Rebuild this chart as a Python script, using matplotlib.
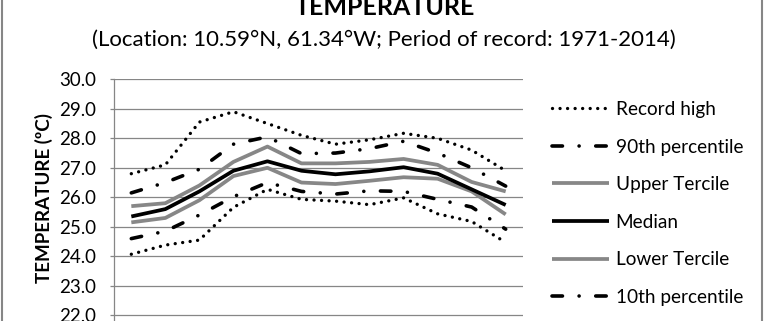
import matplotlib
matplotlib.use("Agg")
import matplotlib.pyplot as plt
from matplotlib.patches import Rectangle

plt.rcParams['font.family'] = ['Lato', 'DejaVu Sans']

# monthly values (deg C)
months = ["Jan", "Feb", "Mar", "Apr", "May", "Jun", "Jul", "Aug", "Sep", "Oct", "Nov", "Dec"]
record_high = [26.8, 27.1, 28.55, 28.9, 28.5, 28.1, 27.8, 27.95, 28.17, 28.0, 27.6, 26.9]
p90 = [26.15, 26.5, 26.95, 27.8, 28.05, 27.48, 27.5, 27.65, 27.9, 27.5, 27.0, 26.38]
upper_tercile = [25.7, 25.8, 26.4, 27.2, 27.72, 27.15, 27.15, 27.2, 27.3, 27.1, 26.52, 26.2]
median = [25.35, 25.6, 26.2, 26.9, 27.22, 26.9, 26.78, 26.88, 27.02, 26.8, 26.27, 25.74]
lower_tercile = [25.15, 25.3, 25.9, 26.72, 27.0, 26.5, 26.45, 26.56, 26.68, 26.63, 26.2, 25.42]
p10 = [24.6, 24.85, 25.4, 26.02, 26.5, 26.2, 26.11, 26.22, 26.2, 25.93, 25.67, 24.92]
record_low = [24.07, 24.38, 24.55, 25.66, 26.27, 25.93, 25.87, 25.75, 25.98, 25.44, 25.18, 24.47]

yticks = [20.0, 21.0, 22.0, 23.0, 24.0, 25.0, 26.0, 27.0, 28.0, 29.0, 30.0]

fig = plt.figure(figsize=(7.66, 3.21), dpi=100)
W, H = 766, 321

# plot area in pixels (axis runs off the bottom of the picture)
left, right, top = 114.3, 522.7, 79.3
px_per_deg = 29.5
bottom = top + px_per_deg * (yticks[-1] - yticks[0])
ax = fig.add_axes([left / W, (H - bottom) / H, (right - left) / W, (bottom - top) / H])

x = range(len(months))
gray = "#878787"
dot = (0, (0.01, 2.25))
dashdot = (0, (2.9, 4.6, 0.01, 4.6))

l_rh, = ax.plot(x, record_high, color="black", lw=2.4, ls=dot, dash_capstyle="round")
l_90, = ax.plot(x, p90, color="black", lw=2.6, ls=dashdot, dash_capstyle="round")
l_ut, = ax.plot(x, upper_tercile, color=gray, lw=2.7, solid_capstyle="butt")
l_lt, = ax.plot(x, lower_tercile, color=gray, lw=2.7, solid_capstyle="butt")
l_md, = ax.plot(x, median, color="black", lw=2.7, solid_capstyle="butt")
l_10, = ax.plot(x, p10, color="black", lw=2.6, ls=dashdot, dash_capstyle="round")
l_rl, = ax.plot(x, record_low, color="black", lw=2.4, ls=dot, dash_capstyle="round")

ax.set_xlim(-0.5, len(months) - 0.5)
ax.set_ylim(yticks[0], yticks[-1])
ax.set_yticks(yticks)
ax.set_yticklabels([f"{v:.1f}" for v in yticks], fontsize=13.5)
# month labels sit below the cropped edge of the picture
ax.set_xticks(list(x))
ax.set_xticklabels([])
ax.grid(axis="y", color="#868686", lw=0.9)
ax.set_axisbelow(True)
for s in ["top", "right", "bottom"]:
    ax.spines[s].set_visible(False)
ax.spines["left"].set_color("#868686")
ax.spines["left"].set_linewidth(0.9)
ax.tick_params(axis="y", length=3, color="#868686", width=0.9, pad=10)
ax.tick_params(axis="x", length=0)

fig.text(385 / W, (H - 15) / H, "TEMPERATURE", ha="center", va="baseline",
         fontsize=18, fontweight="bold")
fig.text(384 / W, (H - 46) / H, "(Location: 10.59°N, 61.34°W; Period of record: 1971-2014)",
         ha="center", va="baseline", fontsize=16)
fig.text(44 / W, (H - 198) / H, "TEMPERATURE (ºC)", rotation=90, ha="center", va="center",
         fontsize=13.5, fontweight="bold")

handles = [l_rh, l_90, l_ut, l_md, l_lt, l_10, l_rl]
labels = ["Record high", "90th percentile", "Upper Tercile", "Median", "Lower Tercile",
          "10th percentile", "Record low"]
fig.legend(handles, labels, loc="upper left", bbox_to_anchor=(552 / W, (H - 101) / H),
           frameon=False, fontsize=13.7, handlelength=3.0, handletextpad=0.35,
           labelspacing=1.08, borderpad=0, borderaxespad=0)

# chart border
fig.add_artist(Rectangle((2 / W, -0.2), 760 / W, 1.4, transform=fig.transFigure,
                         fill=False, edgecolor="#868686", lw=1.5))

fig.savefig("out.png", dpi=100)
